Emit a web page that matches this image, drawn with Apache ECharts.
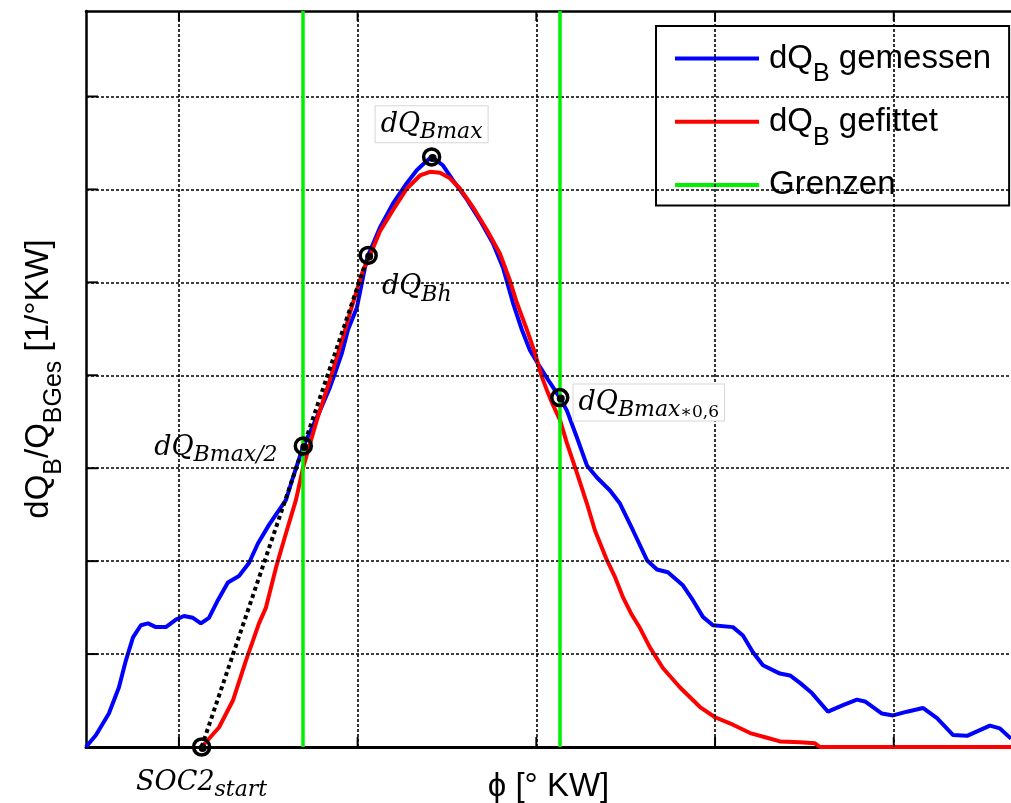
<!DOCTYPE html>
<html><head><meta charset="utf-8">
<script src="https://cdn.jsdelivr.net/npm/echarts@6/dist/echarts.min.js"></script>
<style>html,body{margin:0;padding:0;background:#fff}#c{width:1011px;height:803px}</style>
</head><body><div id="c"></div>
<script>
// x: crank angle (°KW, relative), y: dQB/QBGes (x 1e-2 1/°KW)
const gemessen = [[-5.20,0],[-4.64,0.13],[-3.92,0.36],[-3.36,0.64],[-2.97,0.93],[-2.57,1.18],[-2.13,1.31],[-1.73,1.33],[-1.29,1.29],[-0.73,1.29],[-0.17,1.37],[0.28,1.41],[0.78,1.39],[1.23,1.33],[1.68,1.39],[2.18,1.58],[2.74,1.77],[3.36,1.84],[3.92,1.98],[4.42,2.19],[5.04,2.39],[5.60,2.55],[5.99,2.66],[6.38,2.90],[6.96,3.24],[7.05,3.27],[7.89,3.62],[8.45,3.87],[8.73,4.02],[9.12,4.24],[9.46,4.49],[9.96,4.73],[10.41,5.16],[10.59,5.29],[11.25,5.59],[11.98,5.85],[12.76,6.07],[13.32,6.21],[13.77,6.29],[14.14,6.35],[14.77,6.26],[15.33,6.10],[16.12,5.89],[16.84,5.67],[17.57,5.42],[18.13,5.16],[18.69,4.78],[19.19,4.49],[19.64,4.27],[20.20,4.09],[20.76,3.92],[21.31,3.76],[21.71,3.62],[22.27,3.33],[22.83,3.03],[23.39,2.90],[24.12,2.76],[24.68,2.62],[25.41,2.33],[26.19,2.01],[26.75,1.91],[27.36,1.88],[28.20,1.74],[28.76,1.58],[29.32,1.40],[29.88,1.31],[31.00,1.29],[31.56,1.20],[32.12,1.02],[32.68,0.88],[33.63,0.79],[34.19,0.77],[34.75,0.69],[35.42,0.58],[36.32,0.38],[37.16,0.45],[37.94,0.51],[38.39,0.49],[39.34,0.36],[39.96,0.34],[40.74,0.38],[41.63,0.42],[42.42,0.31],[43.31,0.13],[44.10,0.12],[45.38,0.23],[45.94,0.20],[46.56,0.09]];
const gefittet = [[1.27,0],[2.24,0.21],[3.02,0.50],[3.75,0.93],[4.48,1.33],[4.87,1.50],[5.43,1.93],[5.99,2.30],[6.55,2.66],[6.94,3.00],[7.72,3.52],[8.45,3.95],[9.18,4.41],[9.74,4.78],[10.30,5.13],[10.69,5.29],[11.25,5.55],[11.98,5.78],[12.76,6.01],[13.49,6.15],[14.05,6.19],[14.61,6.18],[15.17,6.12],[15.72,6.01],[16.45,5.81],[17.24,5.56],[17.96,5.31],[18.52,5.02],[18.91,4.78],[19.47,4.49],[19.92,4.24],[20.31,3.98],[20.59,3.84],[20.93,3.68],[21.32,3.52],[21.71,3.27],[22.27,2.95],[22.83,2.62],[23.28,2.33],[23.95,2.01],[24.40,1.83],[24.85,1.61],[25.35,1.42],[25.80,1.28],[26.36,1.07],[27.08,0.85],[28.04,0.64],[29.16,0.43],[30.00,0.32],[31.00,0.24],[31.96,0.15],[32.91,0.10],[33.63,0.06],[34.75,0.05],[35.59,0.04],[35.87,0],[46.56,0]];
const grenzen = [6.94, 21.31];
const punkte = [[1.27,0],[6.96,3.24],[10.59,5.29],[14.14,6.35],[21.31,3.76]];
const punktNamen = ['{m|SOC2}{s|start}','{m|dQ}{s|Bmax/2}','{m|dQ}{s|Bh}','{m|dQ}{s|Bmax}','{m|dQ}{s|Bmax}{u|∗0,6}'];
const xGridTicks = [0,10,20,30,40];
const yGridTicks = [1,2,3,4,5,6,7];
const xRange = [-5.2, 46.56];
const yRange = [0, 7.92];
const legendNamen = ['dQB gemessen','dQB gefittet','Grenzen'];
const legendText = ['{m0|dQ}{s|B}{m| gemessen}','{m0|dQ}{s|B}{m| gefittet}','{m0|Grenzen}'];

const labelLayouts = [
  {position:'bottom', distance:13},
  {position:'left', distance:16, offset:[0,2]},
  {position:'right', distance:4, offset:[0,32]},
  {position:'top', distance:5, box:true},
  {position:'right', distance:4, offset:[0,5], box:true}
];
const mathRich = {
  m:{fontFamily:'DejaVu Serif', fontStyle:'italic', fontSize:27, lineHeight:27, verticalAlign:'top', color:'#000'},
  s:{fontFamily:'DejaVu Serif', fontStyle:'italic', fontSize:22, lineHeight:22, padding:[10,0,0,0], verticalAlign:'top', color:'#000'},
  u:{fontFamily:'DejaVu Serif', fontSize:17, lineHeight:17, padding:[14,0,0,0], verticalAlign:'top', color:'#000'}
};
const sansRich = {
  m0:{fontFamily:'Liberation Sans', fontSize:33, lineHeight:33, verticalAlign:'top', padding:[0,0,0,5], color:'#000'},
  m:{fontFamily:'Liberation Sans', fontSize:33, lineHeight:33, verticalAlign:'top', color:'#000'},
  s:{fontFamily:'Liberation Sans', fontSize:25, lineHeight:25, padding:[20,0,0,0], verticalAlign:'top', color:'#000'}
};

const tickData = []
  .concat(xGridTicks.map(v => ({value:[v, yRange[0]], symbolSize:[2,10], symbolOffset:[0,-5]})))
  .concat(xGridTicks.map(v => ({value:[v, yRange[1]], symbolSize:[2,10], symbolOffset:[0,5]})))
  .concat(yGridTicks.map(v => ({value:[xRange[0], v], symbolSize:[12,2], symbolOffset:[6,0]})));

const chart = echarts.init(document.getElementById('c'), null, {renderer:'canvas'});
chart.setOption({
  animation:false,
  backgroundColor:'#fff',
  grid:{left:86, top:11, right:0, bottom:56, show:false, outerBoundsMode:'none', containLabel:false},
  xAxis:[{type:'value', min:xRange[0], max:xRange[1],
    axisLine:{show:true, onZero:false, lineStyle:{color:'#000', width:3}},
    axisTick:{show:false}, axisLabel:{show:false}, splitLine:{show:false},
    name:'ϕ [° KW]', nameLocation:'middle', nameGap:23,
    nameTextStyle:{fontFamily:'Liberation Sans', fontSize:33, color:'#000'}},
    {type:'value', position:'top', min:xRange[0], max:xRange[1],
    axisLine:{show:true, onZero:false, lineStyle:{color:'#000', width:2.5}},
    axisTick:{show:false}, axisLabel:{show:false}, splitLine:{show:false}}],
  yAxis:{type:'value', min:yRange[0], max:yRange[1],
    axisLine:{show:true, onZero:false, lineStyle:{color:'#000', width:2.5}},
    axisTick:{show:false}, axisLabel:{show:false}, splitLine:{show:false},
    name:'{m|dQ}{s|B}{m|/Q}{s|BGes}{m| [1/°KW]}', nameLocation:'middle', nameGap:31,
    nameTextStyle:{rich:sansRich}},
  legend:{data:legendNamen, orient:'vertical', left:656, top:26, padding:[16,18,4,19],
    itemGap:18.2, itemWidth:84, itemHeight:4, icon:'rect', borderColor:'#000', borderWidth:2, backgroundColor:'#fff',
    formatter:n => legendText[legendNamen.indexOf(n)], textStyle:{rich:sansRich}, selectedMode:false},
  series:[
    {type:'scatter', name:'ticks', data:tickData, symbol:'rect', itemStyle:{color:'#000', opacity:1}, silent:true, z:1, clip:false,
     markLine:{silent:true, symbol:'none', label:{show:false}, lineStyle:{color:'#000', type:[3,2], width:1.6},
       data:xGridTicks.map(v=>({xAxis:v})).concat(yGridTicks.map(v=>({yAxis:v})))}},
    {type:'line', name:legendNamen[0], data:gemessen, symbol:'none', color:'#0000ff', lineStyle:{color:'#0000ff', width:4}, z:2},
    {type:'line', name:legendNamen[1], data:gefittet, symbol:'none', color:'#ff0000', lineStyle:{color:'#ff0000', width:4}, z:3},
    {type:'line', name:legendNamen[2], data:[], symbol:'none', color:'#00f000', lineStyle:{color:'#00f000', width:3.5}, z:4,
     markLine:{silent:true, symbol:'none', label:{show:false}, lineStyle:{color:'#00f000', type:'solid', width:3.5},
       data:grenzen.map(v=>({xAxis:v}))}},
    {type:'line', name:'hilfslinie', data:[punkte[0], punkte[2]], symbol:'none', lineStyle:{color:'#000', type:[4,3.5], width:4}, z:5},
    {type:'scatter', name:'punkte', data:punkte.map((p,i)=>{
        const L = labelLayouts[i];
        return {value:p, label:{show:true, formatter:punktNamen[i], position:L.position, distance:L.distance, offset:L.offset||[0,0],
          rich:mathRich, backgroundColor:L.box?'#fff':'transparent', borderColor:L.box?'#d6d6d6':'transparent', borderWidth:L.box?1:0,
          padding:L.box?[5,5,4,5]:0}};
      }),
     symbol:'circle', symbolSize:16, itemStyle:{color:'rgba(255,255,255,0)', borderColor:'#000', borderWidth:3.5, opacity:1}, z:7, clip:false},
    {type:'scatter', name:'kern', data:punkte, symbol:'circle', symbolSize:8, symbolOffset:[1,1], itemStyle:{color:'#000', opacity:1}, z:8, clip:false, silent:true}
  ]
});
</script></body></html>
